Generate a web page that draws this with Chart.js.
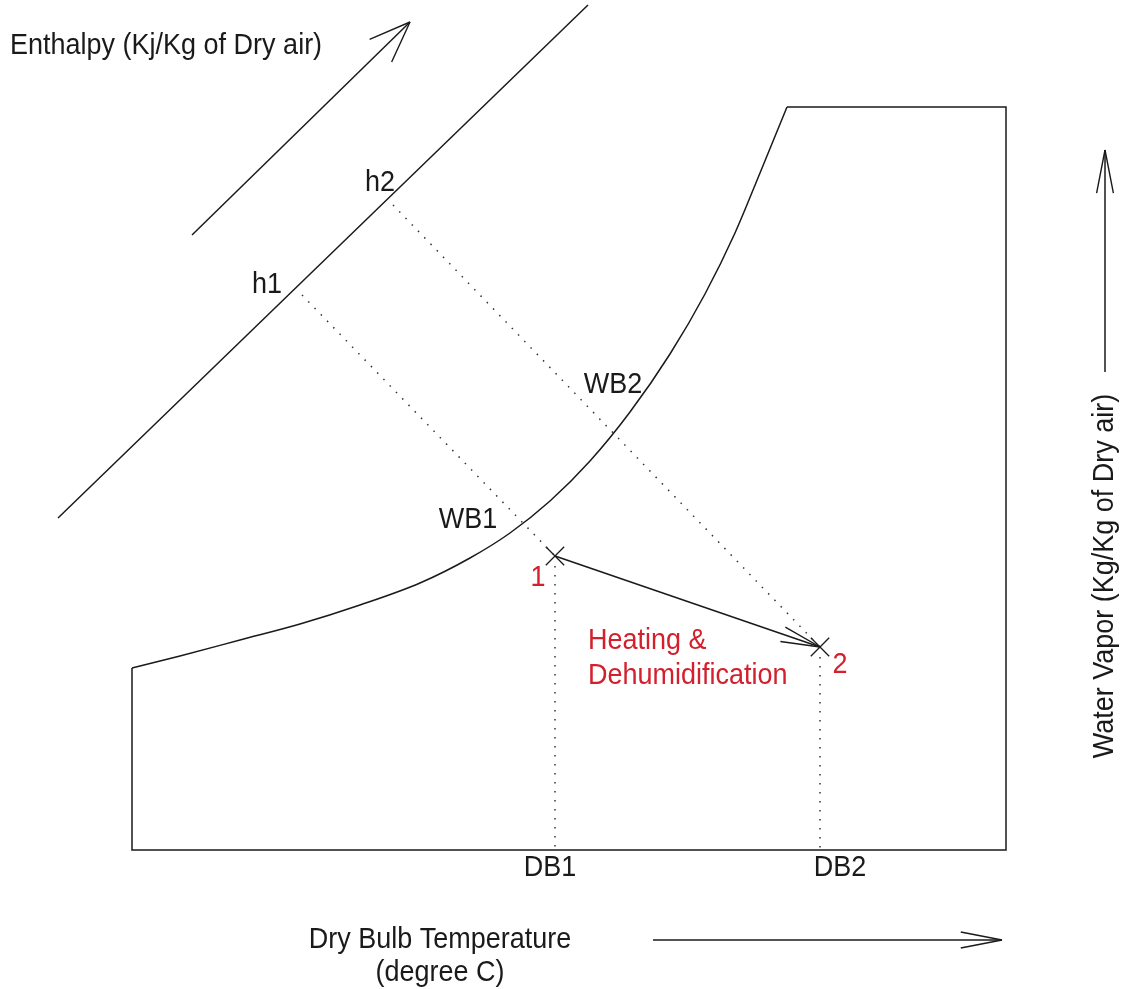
<!DOCTYPE html>
<html>
<head>
<meta charset="utf-8">
<script src="https://cdn.jsdelivr.net/npm/chart.js@4.4.1/dist/chart.umd.min.js"></script>
<style>
  html, body { margin: 0; padding: 0; background: #fff; }
  canvas { display: block; }
</style>
</head>
<body>
<canvas id="psychro" width="1126" height="989"></canvas>
<script>
// saturation curve (upper-left boundary of the chart)
const satX = [132, 180, 240, 300, 360, 420, 470, 510, 550, 590, 630, 670, 705, 735, 760, 787];
const satY = [668, 656, 640, 624, 605, 583, 558, 533, 501, 461, 412, 354, 294, 233, 173, 107];

// rest of the frame
const frameX = [132, 132, 1006, 1006, 787];
const frameY = [668, 850, 850, 107, 107];

// enthalpy scale line
const enthX = [58, 588];
const enthY = [518, 5];

// state points 1 and 2
const stateX = [555, 820];
const stateY = [556, 647];

// dotted lines: enthalpy / wet bulb, dry bulb
const h1X = [302, 555], h1Y = [295, 556];
const h2X = [393, 820], h2Y = [205, 647];
const db1X = [555, 555], db1Y = [566, 850];
const db2X = [820, 820], db2Y = [657, 850];

// direction arrows
const arrEnthX = [192, 410], arrEnthY = [235, 22];
const arrDbX = [653, 1002], arrDbY = [940, 940];
const arrWvX = [1105, 1105], arrWvY = [372, 150];

// text
const labelText = ['Enthalpy (Kj/Kg of Dry air)', 'h2', 'h1', 'WB2', 'WB1', 'DB1', 'DB2',
  '1', '2', 'Heating &', 'Dehumidification', 'Dry Bulb Temperature', '(degree C)', 'Water Vapor (Kg/Kg of Dry air)'];
const labelX = [10, 380, 267, 613, 468, 550, 840, 538, 840, 588, 588, 440, 440, 1105];
const labelY = [46, 183, 285, 385, 520, 868, 868, 578, 665, 641, 676, 940, 973, 576];

const INK = '#1a1a1a';
const RED = '#d3202c';
const FONT = '27px "Liberation Sans", Arial, sans-serif';

function pts(xs, ys) {
  return xs.map((x, i) => ({ x: x, y: ys[i] }));
}

function line(xs, ys, extra) {
  return Object.assign({
    data: pts(xs, ys),
    showLine: true,
    borderColor: INK,
    borderWidth: 1.5,
    pointRadius: 0,
    fill: false,
    tension: 0
  }, extra || {});
}

const dotted = { borderDash: [1.5, 7.5], borderWidth: 1.5, borderColor: '#333' };

const labelStyle = [
  { align: 'left' }, {}, {}, {}, {}, {}, {},
  { color: RED }, { color: RED }, { color: RED, align: 'left' }, { color: RED, align: 'left' },
  {}, {}, { rotate: true }
];

// arrowheads at the last point of datasets with an "arrow" setting
const arrowPlugin = {
  id: 'arrowheads',
  afterDatasetsDraw(chart) {
    const ctx = chart.ctx;
    chart.data.datasets.forEach((ds, i) => {
      if (!ds.arrow) return;
      const meta = chart.getDatasetMeta(i);
      const n = meta.data.length;
      const tip = meta.data[n - 1], prev = meta.data[n - 2];
      const ang = Math.atan2(prev.y - tip.y, prev.x - tip.x);
      const a = ds.arrow.angle * Math.PI / 180;
      ctx.save();
      ctx.strokeStyle = INK;
      ctx.lineWidth = 1.4;
      ctx.beginPath();
      [ang - a, ang + a].forEach(t => {
        ctx.moveTo(tip.x, tip.y);
        ctx.lineTo(tip.x + ds.arrow.len * Math.cos(t), tip.y + ds.arrow.len * Math.sin(t));
      });
      ctx.stroke();
      ctx.restore();
    });
  }
};

// text is a bit taller than wide in the original, so stretch it slightly
const textPlugin = {
  id: 'diagramText',
  afterDatasetsDraw(chart) {
    const ctx = chart.ctx;
    const xs = chart.scales.x, ys = chart.scales.y;
    ctx.save();
    ctx.font = FONT;
    ctx.textBaseline = 'middle';
    labelText.forEach((t, i) => {
      const st = labelStyle[i];
      const px = xs.getPixelForValue(labelX[i]);
      const py = ys.getPixelForValue(labelY[i]);
      ctx.fillStyle = st.color || INK;
      ctx.textAlign = st.align || 'center';
      ctx.save();
      ctx.translate(px, py);
      if (st.rotate) {
        ctx.rotate(-Math.PI / 2);
      }
      ctx.scale(1, 1.08);
      ctx.fillText(t, 0, 0);
      ctx.restore();
    });
    ctx.restore();
  }
};

new Chart(document.getElementById('psychro'), {
  type: 'scatter',
  data: {
    datasets: [
      line(satX, satY, { cubicInterpolationMode: 'monotone' }),
      line(frameX, frameY),
      line(enthX, enthY),
      line(h1X, h1Y, dotted),
      line(h2X, h2Y, dotted),
      line(db1X, db1Y, dotted),
      line(db2X, db2Y, dotted),
      line(stateX, stateY, { arrow: { len: 40, angle: 11 } }),
      {
        data: pts(stateX, stateY),
        showLine: false,
        pointStyle: 'crossRot',
        pointRadius: 13,
        pointBorderWidth: 1.3,
        pointBorderColor: INK
      },
      line(arrEnthX, arrEnthY, { arrow: { len: 44, angle: 21 } }),
      line(arrDbX, arrDbY, { arrow: { len: 42, angle: 11 } }),
      line(arrWvX, arrWvY, { arrow: { len: 44, angle: 11 } })
    ]
  },
  options: {
    responsive: false,
    animation: false,
    events: [],
    layout: { padding: 0, autoPadding: false },
    clip: false,
    scales: {
      x: { type: 'linear', min: 0, max: 1126, display: false },
      y: { type: 'linear', min: 0, max: 989, reverse: true, display: false }
    },
    plugins: {
      legend: { display: false },
      tooltip: { enabled: false }
    }
  },
  plugins: [arrowPlugin, textPlugin]
});
</script>
</body>
</html>
